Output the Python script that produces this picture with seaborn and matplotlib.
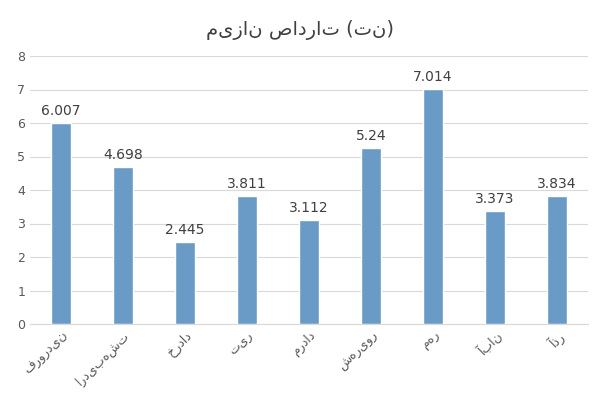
import matplotlib
matplotlib.use("Agg")
import matplotlib.pyplot as plt
import seaborn as sns
import pandas as pd

months = ["فروردین", "اردیبهشت", "خرداد", "تیر", "مرداد", "شهریور", "مهر", "آبان", "آذر"]
values = [6.007, 4.698, 2.445, 3.811, 3.112, 5.24, 7.014, 3.373, 3.834]
labels = ["6.007", "4.698", "2.445", "3.811", "3.112", "5.24", "7.014", "3.373", "3.834"]
title = "میزان صادرات (تن)"

sns.set_style("white")
plt.rcParams['font.family'] = ['DejaVu Sans']
df = pd.DataFrame({"m": months, "v": values})
fig, ax = plt.subplots(figsize=(6, 4), dpi=100)
sns.barplot(data=df, x="m", y="v", color="#5B9BD5", width=0.32, ax=ax)
for i, (v, t) in enumerate(zip(values, labels)):
    ax.text(i, v + 0.15, t, ha="center", va="bottom", fontsize=10, color="#404040")
ax.set_ylim(0, 8)
ax.set_yticks(range(9))
ax.yaxis.grid(True, color="#D9D9D9", linewidth=0.8)
ax.set_axisbelow(True)
for s in ["top", "right", "left"]:
    ax.spines[s].set_visible(False)
ax.spines["bottom"].set_color("#D9D9D9")
ax.tick_params(axis="both", length=0, labelsize=9, colors="#595959")
plt.setp(ax.get_xticklabels(), rotation=45, ha="right", rotation_mode="anchor")
ax.set_xlabel("")
ax.set_ylabel("")
fig.suptitle(title, fontsize=14, color="#404040", y=0.95)
fig.subplots_adjust(left=0.05, right=0.98, top=0.86, bottom=0.19)
fig.savefig("out.png")
